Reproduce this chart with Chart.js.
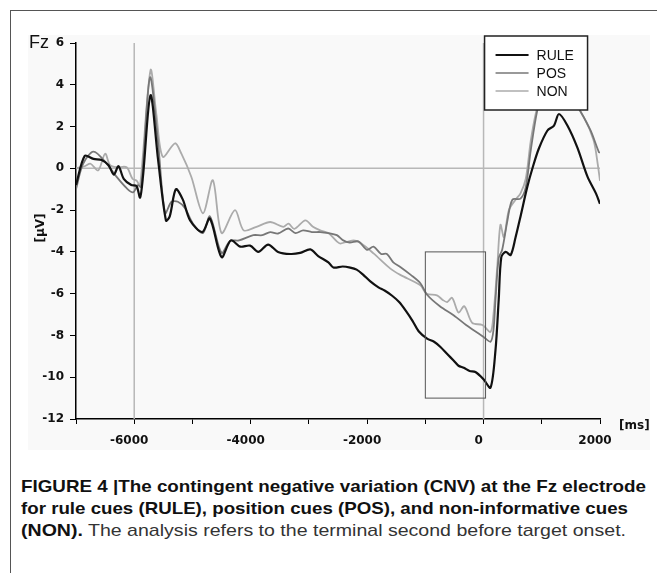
<!DOCTYPE html>
<html>
<head>
<meta charset="utf-8">
<script src="https://cdn.jsdelivr.net/npm/chart.js@4.4.1/dist/chart.umd.min.js"></script>
<style>
  html, body { margin: 0; padding: 0; background: #fff; }
  body { width: 657px; height: 573px; position: relative; overflow: hidden; font-family: "Liberation Sans", Arial, sans-serif; }
  #frame { position: absolute; left: 10px; top: 10px; width: 660px; height: 580px; border-top: 1.5px solid #555; border-left: 1.5px solid #555; }
  #plotBg { position: absolute; left: 28px; top: 35px; width: 622px; height: 415px; background: #f9f9f9; }
  #wrap { position: absolute; left: 0; top: 0; }
  #caption { position: absolute; left: 21px; top: 476px; font-size: 17px; line-height: 22px; color: #111; }
  #caption div { white-space: nowrap; }
  #caption span.fit { display: inline-block; transform-origin: left center; }
  .b { font-weight: bold; }
  .light { color: #333; }
</style>
</head>
<body>
<div id="frame"></div>
<div id="plotBg"></div>
<div id="wrap"><canvas id="cnv" width="657" height="460"></canvas></div>
<div id="caption">
  <div><span class="fit b" data-w="625">FIGURE 4 |The contingent negative variation (CNV) at the Fz electrode</span></div>
  <div><span class="fit b" data-w="607">for rule cues (RULE), position cues (POS), and non-informative cues</span></div>
  <div><span class="fit" data-w="605"><span class="b">(NON).</span> <span class="light">The analysis refers to the terminal second before target onset.</span></span></div>
</div>
<script>
// time (ms) and amplitude (µV)
const ruleMs = [-7000, -6850, -6700, -6560, -6440, -6350, -6270, -6180, -6050, -5960, -5900, -5850, -5720, -5590, -5455, -5390, -5285, -5165, -5040, -4830, -4700, -4500, -4340, -4180, -4010, -3870, -3700, -3530, -3320, -3150, -2975, -2840, -2665, -2580, -2420, -2290, -2180, -2065, -1950, -1805, -1700, -1570, -1450, -1340, -1220, -1115, -970, -850, -740, -620, -515, -430, -340, -240, -140, 0, 120, 205, 260, 305, 380, 465, 550, 635, 750, 850, 950, 1095, 1210, 1295, 1440, 1610, 1785, 1930, 2000];
const ruleUv = [-0.8, 0.6, 0.45, 0.4, 0.15, -0.3, 0.1, -0.5, -0.8, -0.85, -1.4, -0.4, 3.5, 0.4, -2.5, -2.3, -1.0, -1.5, -2.5, -3.05, -2.4, -4.25, -3.45, -3.75, -3.7, -4.0, -3.65, -4.0, -4.1, -4.05, -3.88, -4.2, -4.5, -4.75, -4.7, -4.75, -4.85, -5.1, -5.4, -5.7, -5.85, -6.1, -6.4, -6.8, -7.3, -7.8, -8.15, -8.3, -8.55, -8.9, -9.2, -9.45, -9.55, -9.7, -9.75, -10.1, -10.5, -8.7, -6.3, -4.25, -4.0, -4.15, -3.3, -2.3, -0.9, 0.1, 0.95, 1.8, 2.05, 2.6, 2.05, 1.0, -0.4, -1.2, -1.7];

const posMs = [-7000, -6880, -6700, -6480, -6305, -6130, -6020, -5935, -5880, -5730, -5590, -5470, -5360, -5250, -5130, -4990, -4820, -4700, -4500, -4355, -4200, -3955, -3800, -3665, -3530, -3355, -3230, -3100, -2950, -2805, -2665, -2520, -2410, -2300, -2150, -2000, -1890, -1760, -1660, -1550, -1430, -1250, -1085, -970, -750, -515, -300, -170, 0, 120, 170, 205, 260, 320, 410, 495, 635, 725, 810, 925, 1050, 1200, 1400, 1670, 1840, 1980, 2000];
const posUv = [-1.0, 0.2, 0.8, 0.25, -0.4, -0.95, -1.15, -0.8, -0.9, 4.35, 1.2, -2.15, -1.6, -1.6, -1.9, -2.65, -3.1, -2.3, -4.05, -3.48, -3.45, -3.2, -3.2, -3.05, -3.12, -2.88, -3.1, -2.97, -3.05, -3.05, -3.1, -3.2, -3.45, -3.55, -3.5, -3.9, -3.75, -4.1, -4.1, -4.5, -4.72, -5.1, -5.5, -6.05, -6.6, -7.03, -7.5, -7.75, -8.07, -8.3, -7.75, -6.3, -4.3, -3.9, -2.5, -1.5, -1.45, -0.9, 0.85, 2.8, 3.9, 4.3, 3.9, 2.7, 1.8, 0.78, 0.75];

const nonMs = [-7000, -6850, -6750, -6620, -6500, -6415, -6300, -6130, -6030, -5955, -5900, -5720, -5620, -5510, -5300, -5190, -5020, -4820, -4650, -4500, -4270, -4120, -3900, -3665, -3440, -3350, -3250, -3060, -2930, -2805, -2665, -2520, -2460, -2235, -2100, -1890, -1600, -1430, -1085, -980, -800, -700, -625, -540, -430, -330, -195, -20, 120, 170, 235, 290, 350, 435, 550, 635, 725, 810, 895, 1000, 1150, 1400, 1720, 1890, 1960, 2000];
const nonUv = [0.0, 0.1, 0.22, -0.1, 0.7, 0.15, 0.05, 0.05, -0.5, -0.6, -0.85, 4.7, 2.6, 0.55, 1.2, 0.7, -0.4, -2.15, -0.57, -3.1, -2.0, -2.97, -2.8, -2.57, -2.8, -2.65, -2.9, -2.49, -2.8, -2.97, -3.1, -3.5, -3.6, -3.45, -3.6, -4.07, -4.8, -5.1, -5.6, -6.0, -6.08, -6.3, -6.4, -6.2, -6.9, -6.6, -7.4, -7.5, -7.83, -7.0, -4.72, -2.7, -3.3, -2.0, -1.5, -1.2, -0.5, 1.3, 2.6, 3.7, 4.2, 3.8, 2.45, 1.34, 0.22, -0.6];

const seriesNames = ["RULE", "POS", "NON"];
const xTickLabels = [-6000, -4000, -2000, 0, 2000];

const toPoints = (ms, uv) => ms.map((x, i) => ({ x: x, y: uv[i] }));

const makeSet = (label, ms, uv, color, width) => ({
  label: label,
  data: toPoints(ms, uv),
  showLine: true,
  borderColor: color,
  borderWidth: width,
  pointRadius: 0,
  tension: 0.3,
  fill: false,
});

// gray reference lines, analysis window, legend box and axis captions
const overlays = {
  id: "overlays",
  beforeDatasetsDraw(chart) {
    const { ctx } = chart;
    const x = chart.scales.x, y = chart.scales.y;
    ctx.save();
    ctx.strokeStyle = "#b8b8b8";
    ctx.lineWidth = 1.5;
    ctx.beginPath();
    [-6000, 0].forEach((v) => {
      ctx.moveTo(x.getPixelForValue(v), y.getPixelForValue(6));
      ctx.lineTo(x.getPixelForValue(v), y.getPixelForValue(-12));
    });
    ctx.moveTo(x.getPixelForValue(-7000), y.getPixelForValue(0));
    ctx.lineTo(x.getPixelForValue(2000), y.getPixelForValue(0));
    ctx.stroke();
    ctx.restore();
  },
  afterDatasetsDraw(chart) {
    const { ctx, chartArea } = chart;
    const x = chart.scales.x, y = chart.scales.y;
    ctx.save();

    // terminal second before target
    ctx.strokeStyle = "#555";
    ctx.lineWidth = 1;
    const rx = x.getPixelForValue(-1000), ry = y.getPixelForValue(-4);
    ctx.strokeRect(rx, ry, x.getPixelForValue(0) - rx + 2, y.getPixelForValue(-11) - ry);

    // legend
    const lx = x.getPixelForValue(0) + 1, ly = chartArea.top - 7;
    ctx.fillStyle = "#fff";
    ctx.fillRect(lx, ly, 103, 74);
    ctx.strokeStyle = "#222";
    ctx.lineWidth = 1.5;
    ctx.strokeRect(lx, ly, 103, 74);
    ctx.font = "14px 'Liberation Sans', Arial, sans-serif";
    ctx.textBaseline = "middle";
    chart.data.datasets.forEach((ds, i) => {
      const yy = ly + 19 + i * 18;
      ctx.strokeStyle = ds.borderColor;
      ctx.lineWidth = i === 0 ? 1.8 : 1.3;
      ctx.beginPath();
      ctx.moveTo(lx + 11, yy);
      ctx.lineTo(lx + 44, yy);
      ctx.stroke();
      ctx.fillStyle = "#111";
      ctx.fillText(ds.label, lx + 52, yy + 1);
    });

    // axis captions
    ctx.fillStyle = "#111";
    ctx.textBaseline = "alphabetic";
    ctx.font = "18px 'Liberation Sans', Arial, sans-serif";
    ctx.fillText("Fz", 29, 48);
    ctx.font = "bold 12px 'DejaVu Sans', Verdana, sans-serif";
    ctx.fillText("[ms]", 619, 429);
    ctx.translate(44, 228);
    ctx.rotate(-Math.PI / 2);
    ctx.textAlign = "center";
    ctx.fillText("[µV]", 0, 0);
    ctx.restore();
  },
};

const tickFont = { family: "'DejaVu Sans', Verdana, sans-serif", size: 12, weight: "bold" };

new Chart(document.getElementById("cnv"), {
  type: "scatter",
  data: {
    datasets: [
      makeSet(seriesNames[0], ruleMs, ruleUv, "#111111", 2.2),
      makeSet(seriesNames[1], posMs, posUv, "#777777", 1.8),
      makeSet(seriesNames[2], nonMs, nonUv, "#ababab", 1.8),
    ],
  },
  options: {
    responsive: false,
    animation: false,
    layout: { padding: { top: 43, right: 57, left: 0, bottom: 0 } },
    plugins: { legend: { display: false }, tooltip: { enabled: false } },
    scales: {
      x: {
        type: "linear",
        min: -7000,
        max: 2000,
        afterFit: (s) => { s.height = 41; },
        ticks: {
          stepSize: 1000,
          autoSkip: false,
          maxRotation: 0,
          padding: 10,
          labelOffset: -5,
          color: "#111",
          font: tickFont,
          callback: (v) => (xTickLabels.includes(v) ? String(v) : ""),
        },
        grid: { drawOnChartArea: false, color: "#000", tickLength: 5 },
        border: { color: "#000", width: 1.5 },
      },
      y: {
        min: -12,
        max: 6,
        afterFit: (s) => { s.width = 76; },
        ticks: { stepSize: 2, padding: 6, color: "#111", font: tickFont },
        grid: { drawOnChartArea: false, color: "#000", tickLength: 6 },
        border: { color: "#000", width: 1.5 },
      },
    },
  },
  plugins: [overlays],
});

// squeeze caption lines to the measured widths
document.querySelectorAll("#caption span.fit").forEach((el) => {
  const w = el.getBoundingClientRect().width;
  el.style.transform = "scaleX(" + (Number(el.dataset.w) / w) + ")";
});
</script>
</body>
</html>
